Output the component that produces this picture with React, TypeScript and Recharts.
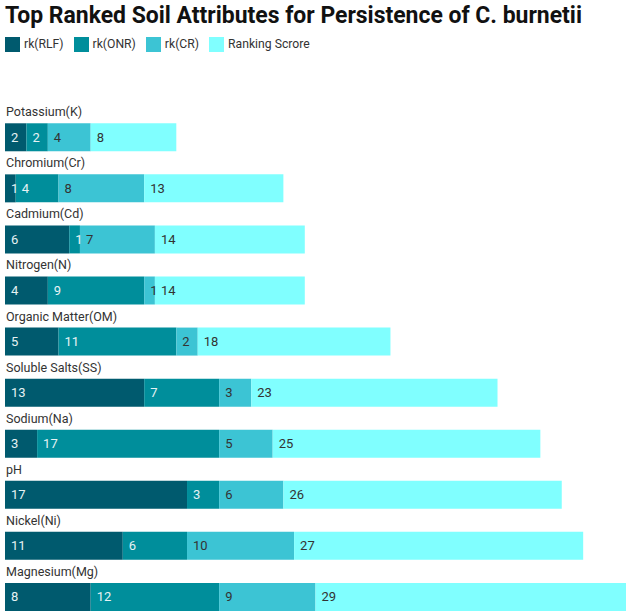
import { BarChart, Bar, XAxis, YAxis, Legend, LabelList } from "recharts";

const attributes = [
  "Potassium(K)",
  "Chromium(Cr)",
  "Cadmium(Cd)",
  "Nitrogen(N)",
  "Organic Matter(OM)",
  "Soluble Salts(SS)",
  "Sodium(Na)",
  "pH",
  "Nickel(Ni)",
  "Magnesium(Mg)",
];
const rkRLF = [2, 1, 6, 4, 5, 13, 3, 17, 11, 8];
const rkONR = [2, 4, 1, 9, 11, 7, 17, 3, 6, 12];
const rkCR = [4, 8, 7, 1, 2, 3, 5, 6, 10, 9];
const rankingScore = [8, 13, 14, 14, 18, 23, 25, 26, 27, 29];

const data = attributes.map((name, i) => ({
  name,
  rlf: rkRLF[i],
  onr: rkONR[i],
  cr: rkCR[i],
  score: rankingScore[i],
}));

const series = [
  { key: "rlf", label: "rk(RLF)", color: "#005a6e", text: "#e6f2f4" },
  { key: "onr", label: "rk(ONR)", color: "#008e9b", text: "#e6f2f4" },
  { key: "cr", label: "rk(CR)", color: "#3cc4d4", text: "#333333" },
  { key: "score", label: "Ranking Scrore", color: "#80ffff", text: "#333333" },
];

const valueLabel = (fill: string) => (props: any) => {
  const { x, y, height, value } = props;
  return (
    <text
      x={x + 6}
      y={y + height / 2}
      dy="0.35em"
      fill={fill}
      fontSize={13}
      fontFamily="Roboto"
    >
      {value}
    </text>
  );
};

const nameLabel = (props: any) => {
  const { y, value } = props;
  return (
    <text x={6} y={y - 7} fill="#333" fontSize={12.5} fontFamily="Roboto">
      {value}
    </text>
  );
};

export default function App() {
  return (
    <div
      style={{
        position: "absolute",
        left: 0,
        top: 0,
        width: 629,
        height: 616,
        overflow: "hidden",
        background: "#fff",
        fontFamily: "Roboto",
      }}
    >
      <svg width={629} height={34} style={{ position: "absolute", left: 0, top: 0 }}>
        <text
          x={5}
          y={23}
          fontSize={24}
          fontWeight="bold"
          fontFamily="Roboto"
          fill="#111"
          textLength={577}
          lengthAdjust="spacingAndGlyphs"
        >
          Top Ranked Soil Attributes for Persistence of  C. burnetii
        </text>
      </svg>
      <BarChart
        width={629}
        height={626}
        data={data}
        layout="vertical"
        margin={{ top: 96, right: 3, bottom: 4, left: 5 }}
      >
        <XAxis type="number" domain={[0, 58]} hide />
        <YAxis type="category" dataKey="name" hide />
        <Legend
          verticalAlign="top"
          align="left"
          iconType="square"
          iconSize={15}
          itemSorter={(item: any) => series.findIndex((s) => s.label === item.value)}
          wrapperStyle={{ top: 37, left: 5, width: "auto", fontSize: 12.2 }}
          formatter={(v: string) => <span style={{ color: "#333" }}>{v}</span>}
        />
        {series.map((s, si) => (
          <Bar
            key={s.key}
            dataKey={s.key}
            name={s.label}
            stackId="a"
            fill={s.color}
            barSize={28}
            isAnimationActive={false}
          >
            <LabelList dataKey={s.key} content={valueLabel(s.text)} />
            {si === 0 && <LabelList dataKey="name" content={nameLabel} />}
          </Bar>
        ))}
      </BarChart>
    </div>
  );
}
